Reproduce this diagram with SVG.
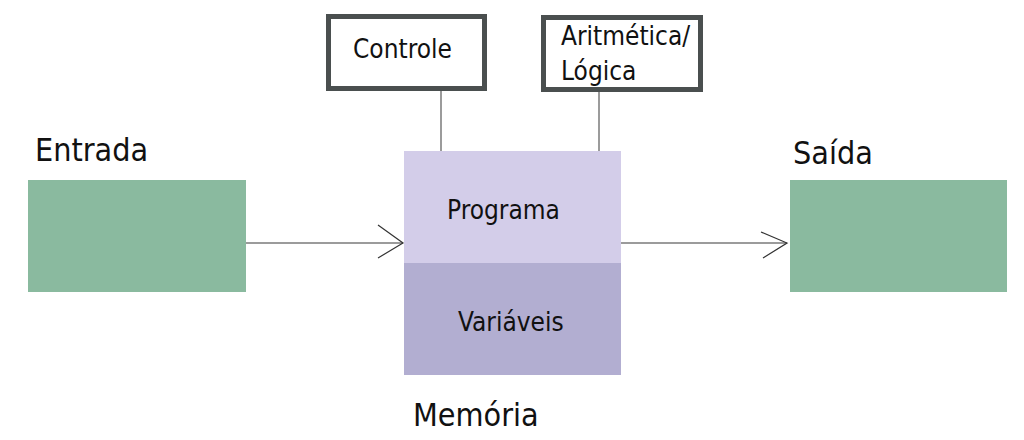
<svg xmlns="http://www.w3.org/2000/svg" width="1024" height="440" viewBox="0 0 1024 440">
<style>
text{font-family:"DejaVu Sans Condensed","DejaVu Sans","Liberation Sans",sans-serif;font-stretch:condensed;fill:#111}
.big{font-size:32px}
.mid{font-size:26px}
.unit{fill:#fff;stroke:#4a4f4f;stroke-width:5}
.io{fill:#8aba9f}
.conn{stroke:#7a7a7a;stroke-width:1.5;fill:none}
.head{stroke:#333;stroke-width:1.2;fill:none}
</style>
<rect width="1024" height="440" fill="#fff"/>
<g id="connectors">
<line class="conn" x1="441" y1="91" x2="441" y2="152"/>
<line class="conn" x1="599" y1="92" x2="599" y2="152"/>
<line class="conn" x1="246" y1="243" x2="403" y2="243"/>
<polyline class="head" points="378,225 403,243 378,258"/>
<line class="conn" x1="621" y1="243" x2="787" y2="243"/>
<polyline class="head" points="761,232 787,243 763,258"/>
</g>
<g id="entrada">
<text class="big" x="35" y="161">Entrada</text>
<rect class="io" x="28" y="180" width="218" height="112"/>
</g>
<g id="saida">
<text class="big" x="793" y="164">Saída</text>
<rect class="io" x="790" y="180" width="217" height="112"/>
</g>
<g id="controle">
<rect class="unit" x="328.5" y="16.5" width="156" height="72"/>
<text class="mid" x="353" y="58">Controle</text>
</g>
<g id="aritmetica">
<rect class="unit" x="543.5" y="17.5" width="157" height="72"/>
<text class="mid" x="561" y="45">Aritmética/</text>
<text class="mid" x="561" y="80">Lógica</text>
</g>
<g id="memoria">
<rect x="404" y="151" width="217" height="112" fill="#d3cde9"/>
<rect x="404" y="263" width="217" height="112" fill="#b2aed1"/>
<text class="mid" x="447" y="219">Programa</text>
<text class="mid" x="458" y="331">Variáveis</text>
<text class="big" x="413" y="426">Memória</text>
</g>
</svg>
